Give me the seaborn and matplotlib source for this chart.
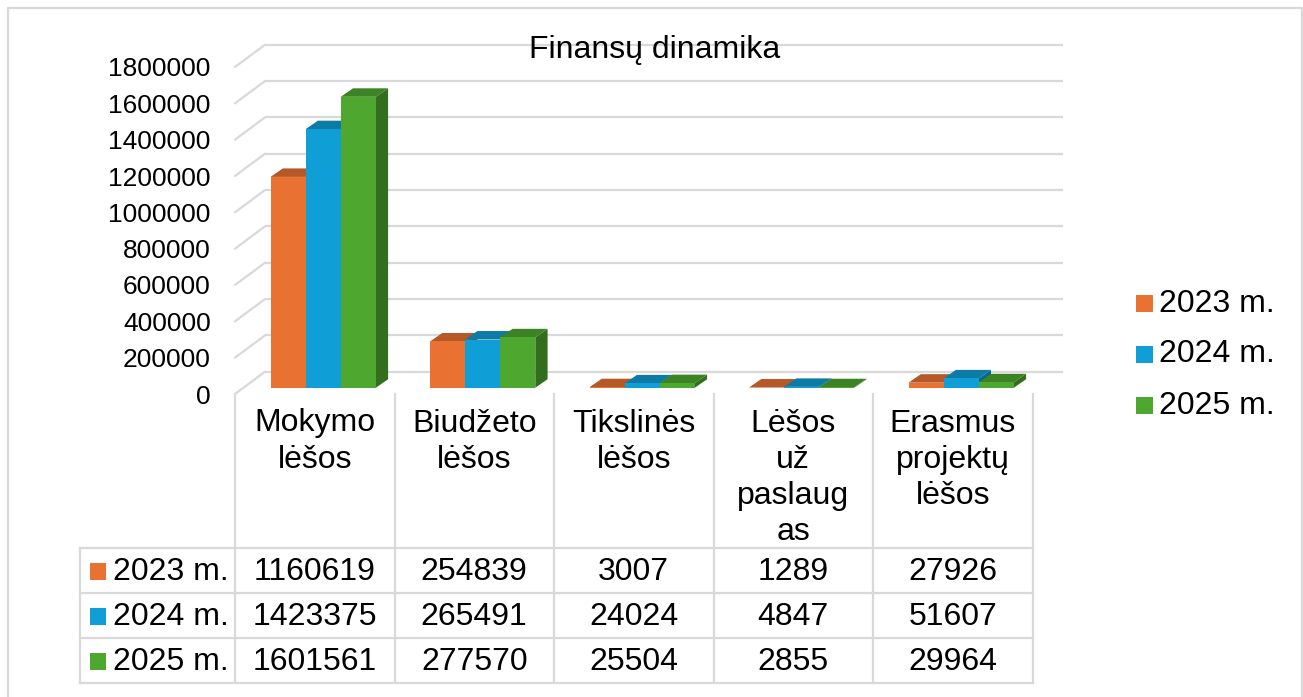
import numpy as np
import pandas as pd
import matplotlib
matplotlib.use("Agg")
import matplotlib.pyplot as plt
import seaborn as sns
from matplotlib.patches import Polygon, Rectangle
from matplotlib.lines import Line2D
from matplotlib.transforms import IdentityTransform, Affine2D, offset_copy
import matplotlib.colors as mcolors

# ---------------- data ----------------
title = "Finansų dinamika"
categories = ["Mokymo\nlėšos", "Biudžeto\nlėšos", "Tikslinės\nlėšos",
              "Lėšos\nuž\npaslaug\nas", "Erasmus\nprojektų\nlėšos"]
series = ["2023 m.", "2024 m.", "2025 m."]
values_2023 = [1160619, 254839, 3007, 1289, 27926]
values_2024 = [1423375, 265491, 24024, 4847, 51607]
values_2025 = [1601561, 277570, 25504, 2855, 29964]
y_ticks = [0, 200000, 400000, 600000, 800000, 1000000, 1200000, 1400000, 1600000, 1800000]
colors = ["#E97132", "#0F9ED5", "#4EA72E"]

all_values = [values_2023, values_2024, values_2025]
df = pd.DataFrame({
    "Kategorija": np.tile(categories, len(series)),
    "Metai": np.repeat(series, len(categories)),
    "Suma": np.concatenate(all_values),
})

# ---------------- style ----------------
W, H = 1303, 697
sns.set_theme(style="white")
plt.rcParams['font.family'] = ['Liberation Sans', 'DejaVu Sans']
GRID = "#d9d9d9"
FS = 23

fig = plt.figure(figsize=(W / 100, H / 100), dpi=100)
img_tr = Affine2D().scale(1, -1).translate(0, H)  # image pixel coords -> display


def fig_rect(x0, y0_img, x1, y1_img):
    return [x0 / W, (H - y1_img) / H, (x1 - x0) / W, (y1_img - y0_img) / H]


# geometry of the pseudo-3D plot
FX0, FX1 = 235, 1032.5
FY_TOP, FY_ZERO = 67, 394
DEPTH_X, DEPTH_Y = 30, 22.3
BAR_D0 = 0.28
BAR_DX, BAR_DY = 12.3, 8.5

# front plane axes (tick labels, side wall)
ax = fig.add_axes(fig_rect(FX0, FY_TOP, FX1, FY_ZERO))
ax.set_xlim(-0.5, len(categories) - 0.5)
ax.set_ylim(y_ticks[0], y_ticks[-1])
ax.patch.set_visible(False)
for s in ax.spines.values():
    s.set_visible(False)
ax.set_xticks([])
ax.set_yticks(y_ticks)
ax.set_yticklabels([str(v) for v in y_ticks])
ax.tick_params(axis="y", length=0, pad=17.5, labelsize=19, labelcolor="#000000")

# back wall gridlines
back_tr = offset_copy(ax.transData, fig=fig, x=DEPTH_X, y=DEPTH_Y, units="dots")
for v in y_ticks:
    ax.plot([-0.5, len(categories) - 0.5], [v, v], transform=back_tr,
            color=GRID, lw=1.6, clip_on=False, zorder=0, solid_capstyle="butt")
    p = ax.transData.transform((-0.5, v))
    fig.add_artist(Line2D([p[0], p[0] + DEPTH_X], [p[1], p[1] + DEPTH_Y],
                          transform=IdentityTransform(), color=GRID, lw=1.6, zorder=0))

# bar plane axes
ax_bar = fig.add_axes(fig_rect(FX0 + BAR_D0 * DEPTH_X, FY_TOP - BAR_D0 * DEPTH_Y,
                               FX1 + BAR_D0 * DEPTH_X, FY_ZERO - BAR_D0 * DEPTH_Y))
sns.barplot(data=df, x="Kategorija", y="Suma", hue="Metai", palette=colors,
            width=0.66, saturation=1, ax=ax_bar, legend=False, linewidth=0,
            edgecolor="none", errorbar=None)
ax_bar.set_xlim(-0.5, len(categories) - 0.5)
ax_bar.set_ylim(y_ticks[0], y_ticks[-1])
ax_bar.axis("off")
ax_bar.patch.set_visible(False)

for i, cont in enumerate(ax_bar.containers):
    base = np.array(mcolors.to_rgb(colors[i]))
    top_c = base * 0.78
    side_c = base * 0.66
    for bar in cont:
        x0, y0 = bar.get_x(), bar.get_y()
        x1, y1 = x0 + bar.get_width(), y0 + bar.get_height()
        (dx0, dy0), (dx1, dy1) = ax_bar.transData.transform([(x0, y0), (x1, y1)])
        bar.set_zorder(3 + 2 * i)
        side = Polygon([(dx1, dy0), (dx1 + BAR_DX, dy0 + BAR_DY),
                        (dx1 + BAR_DX, dy1 + BAR_DY), (dx1, dy1)],
                       closed=True, transform=IdentityTransform(), facecolor=side_c,
                       edgecolor="none", clip_on=False, zorder=2 + 2 * i)
        top = Polygon([(dx0, dy1), (dx1, dy1), (dx1 + BAR_DX, dy1 + BAR_DY),
                       (dx0 + BAR_DX, dy1 + BAR_DY)],
                      closed=True, transform=IdentityTransform(), facecolor=top_c,
                      edgecolor="none", clip_on=False, zorder=2 + 2 * i)
        ax_bar.add_artist(side)
        ax_bar.add_artist(top)

# ---------------- data table ----------------
TAB_X0, TAB_Y1 = 80, 682.5
ppu = (FX1 - FX0) / len(categories)
first_w = (FX0 - TAB_X0) / ppu
ax_tab = fig.add_axes(fig_rect(TAB_X0, FY_ZERO, FX1, TAB_Y1))
ax_tab.set_xlim(-0.5 - first_w, len(categories) - 0.5)
ax_tab.set_ylim(TAB_Y1 - FY_ZERO, 0)
ax_tab.axis("off")
ax_tab.patch.set_visible(False)

HEADER_H = 548 - FY_ZERO
ROW_H = (TAB_Y1 - 548) / len(series)
xl, xr = -0.5 - first_w, len(categories) - 0.5
line_kw = dict(color=GRID, lw=1.6, clip_on=False, solid_capstyle="projecting")
for k in range(len(categories) + 1):
    ax_tab.plot([k - 0.5, k - 0.5], [0, HEADER_H + ROW_H * len(series)], **line_kw)
ax_tab.plot([xl, xl], [HEADER_H, HEADER_H + ROW_H * len(series)], **line_kw)
for r in range(len(series) + 1):
    y = HEADER_H + r * ROW_H
    ax_tab.plot([xl, xr], [y, y], **line_kw)

for k, cat in enumerate(categories):
    ax_tab.text(k, 14.5, cat, ha="center", va="top", fontsize=FS, linespacing=1.27,
                color="#000000")

for r, (name, vals) in enumerate(zip(series, all_values)):
    yc = HEADER_H + (r + 0.5) * ROW_H + 1.5
    ax_tab.add_patch(Rectangle((xl + 9.5 / ppu, yc - 8.5), 17 / ppu, 17,
                               facecolor=colors[r], edgecolor="none", clip_on=False))
    ax_tab.text(xl + 33 / ppu, yc, name, ha="left", va="center", fontsize=FS,
                color="#000000")
    for k, v in enumerate(vals):
        ax_tab.text(k, yc, str(v), ha="center", va="center", fontsize=FS,
                    color="#000000")

# ---------------- legend ----------------
leg_y = [303.5, 354, 405.5]
for name, c, yy in zip(series, colors, leg_y):
    fig.add_artist(Rectangle((1136, yy + 8.5), 17, -17, transform=img_tr,
                             facecolor=c, edgecolor="none"))
    fig.text(1159, yy, name, transform=img_tr, ha="left", va="center",
             fontsize=FS, color="#000000")

# ---------------- title & frame ----------------
fig.text(655, 58, title, transform=img_tr, ha="center", va="baseline",
         fontsize=FS, color="#000000")
fig.add_artist(Line2D([7.5, 7.5, 1301.5, 1301.5], [700, 8, 8, 700],
                      transform=img_tr, color=GRID, lw=1.6))

fig.savefig("out.png", dpi=100, facecolor="white")
